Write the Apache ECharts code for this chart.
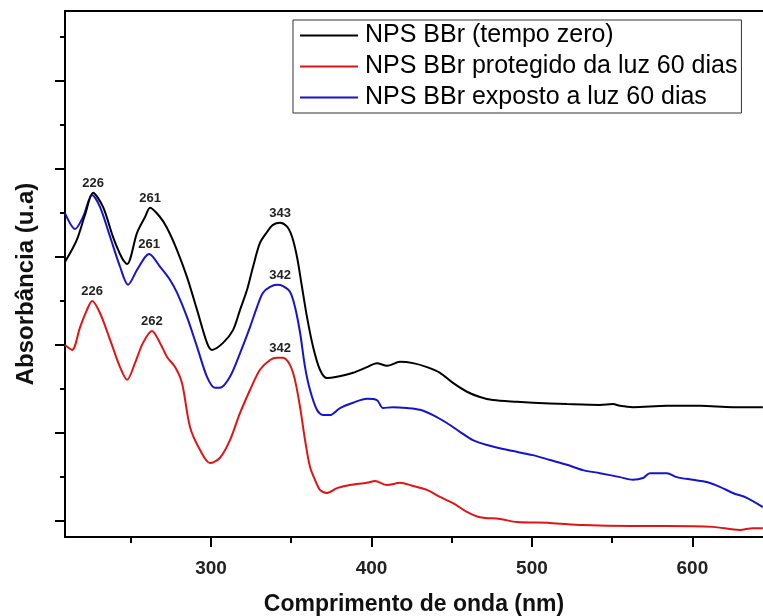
<!DOCTYPE html>
<html>
<head>
<meta charset="utf-8">
<script src="https://cdn.jsdelivr.net/npm/echarts@6/dist/echarts.min.js"></script>
<style>
html,body{margin:0;padding:0;background:#fff;}
#chart{width:763px;height:616px;}
</style>
</head>
<body>
<div id="chart"></div>
<script>
// ---- data (wavelength in nm, absorbance in arbitrary units) ----
var seriesNames = ['NPS BBr (tempo zero)', 'NPS BBr protegido da luz 60 dias', 'NPS BBr exposto a luz 60 dias'];

var wlBlack  = [209.0,214.0,217.1,221.5,226.5,232.7,238.9,244.5,247.7,253.9,258.9,262.0,268.2,272.6,278.8,285.0,291.3,297.5,300.6,307.5,313.7,318.1,322.4,326.2,330.5,334.9,338.6,343.0,347.4,350.5,353.6,356.7,359.8,363.6,367.9,372.3,378.5,388.5,397.2,403.4,409.7,417.8,425.9,434.6,442.7,450.8,459.5,467.6,475.7,490.7,500.6,521.8,542.4,550.5,554.8,562.9,584.1,604.7,625.2,643.9];
var absBlack = [58.8,62.0,64.5,69.5,74.5,71.3,64.5,59.7,58.3,65.4,69.0,71.1,69.0,66.5,61.5,55.4,47.9,40.4,38.8,40.4,43.3,47.9,52.4,57.7,63.1,65.6,67.2,67.7,66.8,64.5,59.9,53.1,46.3,39.5,34.3,32.4,32.7,33.6,34.9,35.8,35.2,36.1,35.8,34.9,33.6,31.3,29.3,28.1,27.4,27.0,26.8,26.5,26.3,26.5,26.1,25.8,26.1,26.1,25.8,25.8];

var wlRed  = [209.0,213.4,218.4,222.7,225.9,230.8,237.1,243.3,247.7,252.6,257.6,263.2,268.2,272.6,277.6,281.9,286.9,293.1,299.4,305.6,311.8,318.1,324.3,330.5,336.8,341.1,344.9,349.2,352.3,355.5,358.6,361.7,364.8,367.9,372.3,378.5,386.6,397.2,402.2,409.7,417.8,425.9,434.6,442.7,450.8,459.5,467.6,480.1,490.7,511.2,531.8,562.9,584.1,612.8,629.6,637.7,643.9];
var absRed = [39.9,38.8,44.0,47.9,49.9,47.2,41.1,34.9,32.0,35.8,40.4,43.1,40.4,37.2,34.9,31.3,21.3,16.1,13.1,14.3,18.3,24.5,29.7,34.3,36.5,37.0,37.0,35.4,32.0,25.8,18.3,12.2,9.3,7.0,6.3,7.4,8.1,8.6,9.0,8.1,8.6,7.9,7.0,5.4,4.0,2.0,0.8,0.4,-0.3,-0.5,-1.0,-1.2,-1.2,-1.4,-2.1,-1.7,-1.7];

var wlBlue  = [209.0,215.3,220.2,225.9,230.8,237.1,243.3,248.3,253.9,258.9,261.4,268.2,274.5,278.8,285.0,291.3,297.5,302.5,305.6,311.8,318.1,324.3,328.7,332.4,336.8,341.1,344.9,349.2,352.3,355.5,358.6,361.7,366.0,369.8,374.1,380.4,388.5,397.2,403.4,407.2,413.4,422.1,430.2,438.3,447.0,455.1,463.2,472.0,484.4,500.6,511.2,521.8,531.8,542.4,554.8,562.9,569.2,573.5,584.1,590.3,600.3,609.0,617.1,625.2,633.9,643.9];
var absBlue = [69.9,66.3,69.0,74.0,71.3,64.5,57.7,53.6,57.0,59.9,60.6,57.7,54.7,51.8,46.3,39.5,32.7,30.2,30.2,32.7,38.1,44.0,48.6,51.8,53.1,53.6,53.3,52.0,48.6,42.7,34.9,29.7,25.2,24.0,24.0,25.6,26.8,27.7,27.4,25.6,25.8,25.6,25.2,24.0,22.2,20.2,18.3,17.2,16.1,14.9,13.8,12.7,11.5,10.8,9.9,9.3,9.7,10.8,10.8,9.9,9.3,8.8,7.7,6.3,5.2,3.1];

// peak annotations: [wavelength, absorbance, label]
var peaksBlack = [[226.5,74.5,'226'],[262.0,71.1,'261'],[343.0,67.7,'343']];
var peaksRed   = [[225.9,49.9,'226'],[263.2,43.1,'262'],[343.0,37.0,'342']];
var peaksBlue  = [[261.4,60.6,'261'],[343.0,53.6,'342']];

var xMajorTicks = [300,400,500,600];
var xMinorTicks = [250,350,450,550];
var yMajorTicks = [0,20,40,60,80,100];
var yMinorTicks = [10,30,50,70,90,110];

// ---- build ----
function zip(xs, ys){ return xs.map(function(x,i){ return [x, ys[i]]; }); }
function peakMarks(p){
  return {
    symbol:'circle', symbolSize:0,
    label:{show:true, position:'top', distance:3, color:'#222', fontSize:13, fontWeight:'bold',
           fontFamily:'Liberation Sans, Arial, sans-serif', formatter:function(d){return d.data.name;}},
    data:p.map(function(q){ return {coord:[q[0],q[1]], name:q[2]}; })
  };
}
var FONT = 'Liberation Sans, Arial, sans-serif';
var chart = echarts.init(document.getElementById('chart'), null, {renderer:'canvas'});
chart.setOption({
  animation:false,
  backgroundColor:'#fff',
  grid:{left:65, right:0, top:11, bottom:79, containLabel:false, outerBoundsMode:'none'},
  legend:{
    orient:'vertical', left:293, top:20, padding:[3,4,3,7], itemGap:6, itemWidth:58, itemHeight:2,
    icon:'rect',
    borderColor:'#333', borderWidth:1, backgroundColor:'#fff',
    textStyle:{fontSize:25, lineHeight:25, color:'#000', fontFamily:FONT, padding:[0,0,0,2]},
    data:seriesNames
  },
  xAxis:[
    {type:'value', min:209, max:644, position:'bottom',
     name:'Comprimento de onda (nm)', nameLocation:'middle', nameGap:56,
     nameTextStyle:{fontSize:23, fontWeight:'bold', color:'#111', fontFamily:FONT},
     axisLine:{show:true, onZero:false, lineStyle:{color:'#000', width:2}},
     axisTick:{show:true, length:10, lineStyle:{color:'#000', width:2}, customValues:xMajorTicks},
     axisLabel:{show:true, margin:22, fontSize:19, fontWeight:'bold', color:'#222', fontFamily:FONT, customValues:xMajorTicks},
     splitLine:{show:false}},
    {type:'value', min:209, max:644, position:'bottom',
     axisLine:{show:false, onZero:false},
     axisTick:{show:true, length:6, lineStyle:{color:'#000', width:2}, customValues:xMinorTicks},
     axisLabel:{show:false}, splitLine:{show:false}},
    {type:'value', min:209, max:644, position:'top',
     axisLine:{show:true, onZero:false, lineStyle:{color:'#000', width:2}},
     axisTick:{show:false}, axisLabel:{show:false}, splitLine:{show:false}}
  ],
  yAxis:[
    {type:'value', min:-3.7, max:115.8, position:'left',
     name:'Absorbância (u.a)', nameLocation:'middle', nameGap:27,
     nameTextStyle:{fontSize:24, fontWeight:'bold', color:'#111', fontFamily:FONT, padding:[0,20,0,0]},
     axisLine:{show:true, onZero:false, lineStyle:{color:'#000', width:2}},
     axisTick:{show:true, length:10, lineStyle:{color:'#000', width:2}, customValues:yMajorTicks},
     axisLabel:{show:false}, splitLine:{show:false}},
    {type:'value', min:-3.7, max:115.8, position:'left',
     axisLine:{show:false, onZero:false},
     axisTick:{show:true, length:5, lineStyle:{color:'#000', width:2}, customValues:yMinorTicks},
     axisLabel:{show:false}, splitLine:{show:false}}
  ],
  series:[
    {name:seriesNames[0], type:'line', symbol:'none', smooth:0.3, data:zip(wlBlack, absBlack),
     lineStyle:{color:'#000', width:2}, itemStyle:{color:'#000'}, markPoint:peakMarks(peaksBlack), z:3},
    {name:seriesNames[1], type:'line', symbol:'none', smooth:0.3, data:zip(wlRed, absRed),
     lineStyle:{color:'#e01414', width:2}, itemStyle:{color:'#e01414'}, markPoint:peakMarks(peaksRed), z:2},
    {name:seriesNames[2], type:'line', symbol:'none', smooth:0.3, data:zip(wlBlue, absBlue),
     lineStyle:{color:'#1414cc', width:2}, itemStyle:{color:'#1414cc'}, markPoint:peakMarks(peaksBlue), z:2}
  ]
});
</script>
</body>
</html>
